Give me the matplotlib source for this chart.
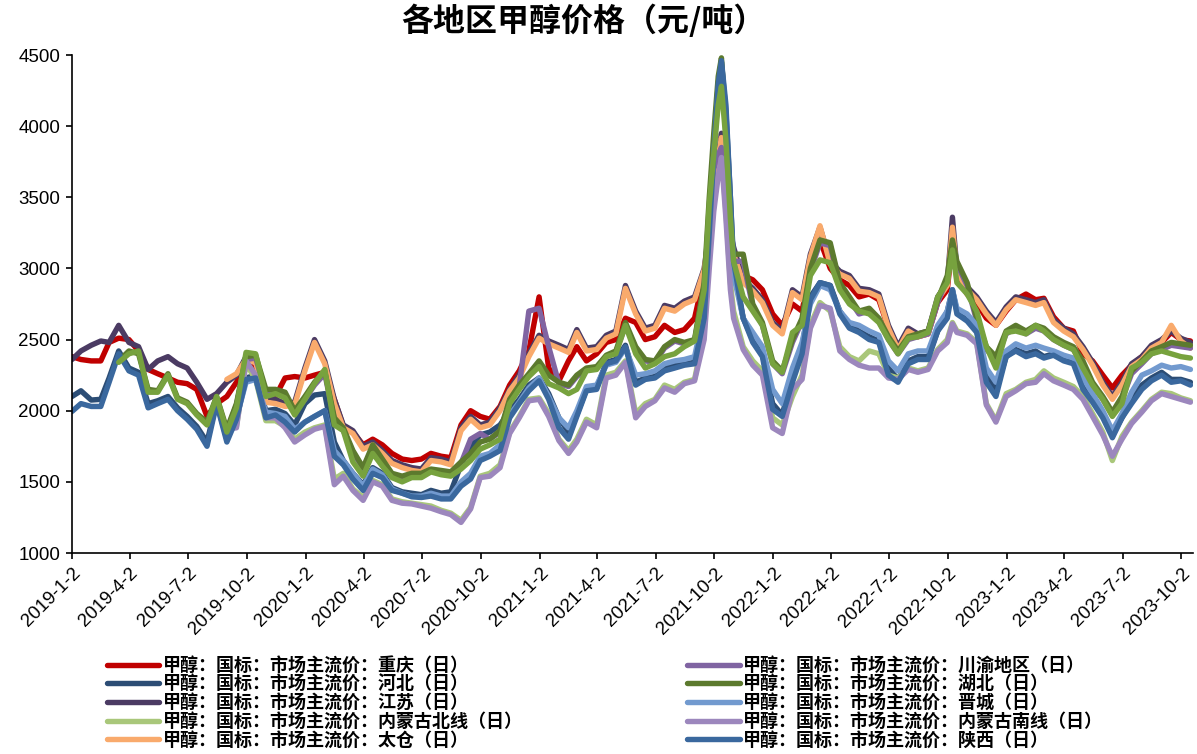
import numpy as np
import pandas as pd
import matplotlib
matplotlib.use('Agg')
import matplotlib.pyplot as plt

CJK = ['Noto Sans CJK SC', 'DejaVu Sans']
LAT = ['Liberation Sans', 'DejaVu Sans']

# 日期（半月采样，十月高点附近加密）
dates = [
    '2019-01-02', '2019-01-16', '2019-02-01', '2019-02-16', '2019-03-01', '2019-03-16', '2019-04-01', '2019-04-16', '2019-05-01', '2019-05-16',
    '2019-06-01', '2019-06-16', '2019-07-01', '2019-07-16', '2019-08-01', '2019-08-16', '2019-09-01', '2019-09-16', '2019-10-01', '2019-10-16',
    '2019-11-01', '2019-11-16', '2019-12-01', '2019-12-16', '2020-01-01', '2020-01-16', '2020-02-01', '2020-02-16', '2020-03-01', '2020-03-16',
    '2020-04-01', '2020-04-16', '2020-05-01', '2020-05-16', '2020-06-01', '2020-06-16', '2020-07-01', '2020-07-16', '2020-08-01', '2020-08-16',
    '2020-09-01', '2020-09-16', '2020-10-01', '2020-10-16', '2020-11-01', '2020-11-16', '2020-12-01', '2020-12-16', '2021-01-01', '2021-01-16',
    '2021-02-01', '2021-02-16', '2021-03-01', '2021-03-16', '2021-04-01', '2021-04-16', '2021-05-01', '2021-05-16', '2021-06-01', '2021-06-16',
    '2021-07-01', '2021-07-16', '2021-08-01', '2021-08-16', '2021-09-01', '2021-09-16', '2021-09-24', '2021-10-01', '2021-10-08', '2021-10-13',
    '2021-10-20', '2021-10-27', '2021-11-01', '2021-11-16', '2021-12-01', '2021-12-16', '2022-01-01', '2022-01-16', '2022-02-01', '2022-02-16',
    '2022-03-01', '2022-03-16', '2022-04-01', '2022-04-16', '2022-05-01', '2022-05-16', '2022-06-01', '2022-06-16', '2022-07-01', '2022-07-16',
    '2022-08-01', '2022-08-16', '2022-09-01', '2022-09-16', '2022-10-01', '2022-10-09', '2022-10-16', '2022-11-01', '2022-11-16', '2022-12-01',
    '2022-12-16', '2023-01-01', '2023-01-16', '2023-02-01', '2023-02-16', '2023-03-01', '2023-03-16', '2023-04-01', '2023-04-16', '2023-05-01',
    '2023-05-16', '2023-06-01', '2023-06-16', '2023-07-01', '2023-07-16', '2023-08-01', '2023-08-16', '2023-09-01', '2023-09-16', '2023-10-01',
    '2023-10-16',
]

N = None

chongqing = [
    2380, 2360, 2350, 2350, 2480, 2510, 2500, 2420, 2290, 2260,
    2230, 2200, 2190, 2150, 1960, 2050, 2100, 2200, 2320, 2300,
    2120, 2100, 2230, 2240, 2230, 2250, 2270, 2080, 1890, 1850,
    1760, 1800, 1760, 1700, 1660, 1650, 1660, 1700, 1680, 1670,
    1900, 2000, 1960, 1940, 2030, 2180, 2280, 2420, 2800, 2300,
    2210, 2350, 2450, 2350, 2400, 2480, 2500, 2650, 2620, 2500,
    2520, 2600, 2550, 2570, 2650, 2950, 3200, 3500, 3750, 3900,
    3500, 3200, 3050, 2950, 2920, 2850, 2680, 2600, 2750, 2700,
    3000, 3200, 3000, 2920, 2880, 2800, 2820, 2780, 2580, 2450,
    2560, 2520, 2540, 2760, 2850, 3200, 2950, 2820, 2760, 2650,
    2600, 2700, 2780, 2820, 2780, 2790, 2660, 2580, 2560, 2400,
    2350, 2250, 2160, 2250, 2320, 2380, 2450, 2480, 2550, 2500,
    2490,
]

hebei = [
    2100, 2140, 2075, 2080, 2230, 2420, 2300, 2270, 2050, 2070,
    2100, 2020, 1960, 1890, 1780, 2060, 1800, 1950, 2230, 2250,
    2000, 2010, 1980, 1900, 2050, 2110, 2120, 1780, 1650, 1560,
    1480, 1600, 1560, 1460, 1430, 1420, 1410, 1440, 1420, 1430,
    1620, 1750, 1830, 1850, 1900, 2000, 2080, 2180, 2230, 2120,
    1950, 1850, 1970, 2150, 2160, 2340, 2360, 2460, 2200, 2230,
    2240, 2300, 2320, 2330, 2340, 2700, 3300, 3850, 4300, 4450,
    4100, 3500, 3000, 2650, 2500, 2400, 2050, 1970, 2250, 2450,
    2800, 2900, 2880, 2700, 2600, 2560, 2520, 2490, 2300, 2220,
    2350, 2380, 2380, 2560, 2700, 2850, 2700, 2650, 2560, 2250,
    2150, 2380, 2430, 2400, 2420, 2380, 2400, 2370, 2340, 2200,
    2100, 1980, 1830, 1950, 2080, 2180, 2230, 2270, 2220, 2220,
    2200,
]

jiangsu = [
    2360, 2420, 2460, 2490, 2480, 2600, 2480, 2450, 2290, 2350,
    2380, 2330, 2300, 2200, 2080, 2120, 2200, 2250, 2380, 2360,
    2100, 2080, 2050, 2060, 2300, 2500, 2350, 2080, 1900, 1860,
    1750, 1780, 1720, 1650, 1620, 1600, 1590, 1670, 1660, 1640,
    1880, 1960, 1900, 1920, 2020, 2150, 2250, 2400, 2530, 2490,
    2460, 2430, 2570, 2440, 2450, 2530, 2560, 2880, 2700, 2580,
    2600, 2740, 2720, 2770, 2800, 3000, 3250, 3550, 3800, 3950,
    3600, 3250, 3150, 2920, 2860, 2780, 2620, 2560, 2850, 2800,
    3100, 3290, 3050, 2980, 2950, 2860, 2850, 2820, 2600, 2450,
    2580, 2540, 2560, 2800, 2900, 3360, 3000, 2870, 2800, 2700,
    2620, 2730, 2800, 2780, 2760, 2780, 2640, 2580, 2540, 2450,
    2340, 2200, 2100, 2200, 2330, 2380, 2460, 2500, 2560, 2510,
    2480,
]

neimeng_bei = [
    N, N, N, N, N, N, N, N, N, N,
    N, N, N, N, N, N, 1880, 1890, 2330, 2220,
    1930, 1930, 1890, 1800, 1850, 1880, 1900, 1520, 1560, 1450,
    1390, 1510, 1480, 1380, 1360, 1350, 1340, 1330, 1300, 1280,
    1230, 1320, 1540, 1560, 1620, 1850, 1960, 2080, 2090, 1980,
    1800, 1720, 1800, 1940, 1900, 2250, 2270, 2350, 1980, 2050,
    2080, 2180, 2150, 2200, 2220, 2550, 3100, 3450, 3700, 3820,
    3400, 2900, 2700, 2450, 2350, 2280, 1950, 1900, 2100, 2250,
    2600, 2760, 2700, 2450, 2380, 2350, 2420, 2400, 2250, 2230,
    2300, 2280, 2300, 2430, 2500, 2620, 2560, 2540, 2480, 2050,
    1930, 2120, 2150, 2200, 2220, 2280, 2230, 2200, 2170, 2100,
    1980, 1850, 1650, 1820, 1920, 2000, 2080, 2130, 2120, 2090,
    2070,
]

taicang = [
    N, N, N, N, N, N, N, N, N, N,
    N, N, N, N, N, N, 2220, 2260, 2360, 2340,
    2060, 2050, 2030, 2040, 2280, 2480, 2330, 2050, 1880, 1840,
    1730, 1760, 1700, 1630, 1600, 1580, 1570, 1650, 1640, 1620,
    1860, 1940, 1880, 1900, 2000, 2140, 2230, 2380, 2510, 2470,
    2440, 2410, 2550, 2420, 2430, 2510, 2540, 2860, 2680, 2560,
    2580, 2720, 2700, 2750, 2780, 2990, 3230, 3520, 3780, 3920,
    3580, 3230, 3100, 2900, 2840, 2760, 2600, 2540, 2830, 2780,
    3080, 3300, 3030, 2960, 2930, 2840, 2830, 2800, 2580, 2430,
    2560, 2520, 2540, 2780, 2880, 3290, 2980, 2850, 2780, 2680,
    2600, 2710, 2780, 2760, 2740, 2760, 2620, 2560, 2520, 2430,
    2320, 2180, 2080, 2180, 2310, 2360, 2440, 2480, 2600, 2490,
    2440,
]

chuanyu = [
    N, N, N, N, N, N, N, N, N, N,
    N, N, N, N, N, N, 1860, 2040, 2360, 2370,
    2130, 2130, 2110, 1990, 2080, 2180, 2260, 1940, 1860, 1710,
    1590, 1740, 1650, 1550, 1530, 1550, 1550, 1580, 1570, 1560,
    1630, 1800, 1840, 1800, 1850, 2070, 2170, 2700, 2720, 2450,
    2190, 2170, 2240, 2290, 2300, 2380, 2410, 2600, 2440, 2350,
    2340, 2440, 2490, 2470, 2490, 2880, 3400, 3700, 3800, 3850,
    3500, 3200, 3050, 3050, 2730, 2600, 2330, 2260, 2480, 2630,
    2980, 3180, 3160, 2880, 2780, 2680, 2700, 2630, 2500, 2400,
    2500, 2520, 2540, 2760, 2930, 3150, 3030, 2880, 2630, 2430,
    2360, 2540, 2580, 2540, 2580, 2560, 2500, 2460, 2430, 2330,
    2180, 2080, 1970, 2080, 2260, 2330, 2400, 2430, 2460, 2450,
    2440,
]

hubei = [
    N, N, N, N, N, 2350, 2420, 2400, 2150, 2140,
    2260, 2090, 2060, 1980, 1920, 2100, 1870, 2050, 2380, 2390,
    2150, 2150, 2130, 2000, 2100, 2200, 2280, 1950, 1880, 1720,
    1600, 1760, 1660, 1560, 1540, 1560, 1560, 1590, 1580, 1570,
    1640, 1700, 1780, 1800, 1860, 2080, 2180, 2260, 2350, 2250,
    2200, 2180, 2250, 2300, 2310, 2390, 2420, 2620, 2450, 2360,
    2350, 2450, 2500, 2480, 2500, 2900, 3500, 3950, 4350, 4480,
    4000, 3250, 3100, 3100, 2750, 2620, 2350, 2280, 2500, 2650,
    3000, 3200, 3180, 2900, 2800, 2700, 2720, 2650, 2520, 2420,
    2520, 2540, 2560, 2780, 2950, 3200, 3050, 2900, 2650, 2450,
    2380, 2560, 2600, 2560, 2600, 2580, 2520, 2480, 2450, 2350,
    2200, 2100, 1990, 2100, 2280, 2350, 2420, 2450, 2480, 2470,
    2460,
]

jincheng = [
    N, N, N, N, N, N, N, N, N, N,
    N, N, N, N, N, N, 1850, 1950, 2200, 2220,
    1990, 1980, 1960, 1870, 1920, 1960, 2000, 1720, 1650, 1560,
    1470, 1590, 1550, 1450, 1420, 1400, 1400, 1420, 1400, 1400,
    1500, 1560, 1680, 1700, 1760, 1970, 2060, 2160, 2230, 2100,
    1950, 1880, 2000, 2170, 2180, 2320, 2340, 2440, 2250, 2260,
    2280, 2330, 2350, 2360, 2380, 2700, 3300, 3800, 4250, 4370,
    3950, 3300, 2950, 2650, 2550, 2450, 2150, 2050, 2300, 2480,
    2750, 2880, 2850, 2700, 2620, 2600, 2560, 2530, 2350, 2280,
    2400, 2420, 2420, 2600, 2700, 2850, 2720, 2680, 2600, 2300,
    2200, 2420, 2470, 2440, 2460, 2440, 2420, 2390, 2370, 2230,
    2120, 2000, 1860, 1980, 2130, 2250, 2280, 2320, 2300, 2310,
    2290,
]

neimeng_nan = [
    N, N, N, N, N, N, N, N, N, N,
    N, N, N, N, N, N, 1870, 1880, 2350, 2250,
    1950, 1950, 1880, 1780, 1830, 1870, 1890, 1480, 1540, 1440,
    1370, 1500, 1470, 1370, 1350, 1345, 1330, 1315, 1290, 1270,
    1215, 1310, 1530, 1540, 1600, 1840, 1950, 2070, 2080, 1960,
    1790, 1700, 1780, 1920, 1880, 2230, 2250, 2340, 1950, 2030,
    2070, 2160, 2130, 2190, 2210, 2500, 3000, 3400, 3650, 3780,
    3350, 2850, 2650, 2430, 2320, 2250, 1880, 1840, 2150, 2220,
    2580, 2740, 2720, 2420, 2360, 2320, 2300, 2300, 2230, 2220,
    2290, 2270, 2290, 2420, 2480, 2610, 2550, 2530, 2470, 2040,
    1920, 2100, 2140, 2190, 2200, 2260, 2210, 2180, 2150, 2080,
    1960, 1830, 1680, 1800, 1910, 1990, 2070, 2120, 2100, 2080,
    2060,
]

shaanxi = [
    1995, 2050, 2030, 2030, 2200, 2400, 2280, 2250, 2020, 2050,
    2080, 2000, 1940, 1870, 1750, 2050, 1780, 1940, 2220, 2230,
    1950, 1970, 1920, 1850, 1920, 1960, 2000, 1680, 1620, 1520,
    1440, 1560, 1530, 1440, 1420, 1395, 1390, 1400, 1380, 1380,
    1470, 1520, 1650, 1680, 1720, 1950, 2050, 2140, 2210, 2080,
    1880, 1800, 1960, 2140, 2150, 2330, 2350, 2450, 2180, 2220,
    2230, 2280, 2300, 2320, 2330, 2650, 3250, 3800, 4300, 4460,
    4150, 3500, 3050, 2650, 2480, 2380, 2010, 1960, 2200, 2400,
    2780, 2900, 2880, 2680, 2580, 2550, 2500, 2480, 2250, 2200,
    2330, 2360, 2360, 2560, 2650, 2850, 2680, 2630, 2550, 2200,
    2100, 2380, 2420, 2380, 2400, 2370, 2390, 2350, 2330, 2150,
    2060, 1950, 1810, 1950, 2050, 2150, 2210, 2250, 2200, 2210,
    2180,
]

# 图中另有一条未进图例的亮绿色线
extra_green = [
    N, N, N, N, N, 2340, 2400, 2420, 2130, 2130,
    2250, 2080, 2050, 1970, 1900, 2100, 1850, 2020, 2410, 2400,
    2100, 2120, 2090, 1970, 2080, 2190, 2290, 1900, 1860, 1640,
    1540, 1700, 1610, 1530, 1500, 1530, 1530, 1570, 1550, 1540,
    1590, 1650, 1730, 1760, 1800, 2050, 2150, 2240, 2310, 2190,
    2160, 2120, 2150, 2280, 2290, 2380, 2400, 2600, 2400, 2300,
    2330, 2380, 2400, 2450, 2490, 2850, 3450, 3800, 4150, 4280,
    3900, 3350, 3050, 2800, 2700, 2600, 2330, 2270, 2550, 2600,
    2950, 3060, 3040, 2850, 2750, 2700, 2680, 2620, 2500, 2400,
    2510, 2520, 2550, 2800, 2900, 3130, 2900, 2820, 2700, 2450,
    2300, 2550, 2560, 2540, 2600, 2560, 2500, 2460, 2430, 2300,
    2180, 2080, 1960, 2050, 2300, 2340, 2400, 2420, 2400, 2380,
    2370,
]

regions = ['重庆', '河北', '江苏', '内蒙古北线', '太仓', '川渝地区', '湖北', '晋城', '内蒙古南线', '陕西']
series = [chongqing, hebei, jiangsu, neimeng_bei, taicang, chuanyu, hubei, jincheng, neimeng_nan, shaanxi]
colors = ['#C00000', '#2C4D75', '#4B3B63', '#A9C77A', '#F9AA6C',
          '#8064A2', '#5C7A2E', '#729ACF', '#9C87BD', '#3A689E']

xtick_labels = ['2019-1-2', '2019-4-2', '2019-7-2', '2019-10-2', '2020-1-2', '2020-4-2',
                '2020-7-2', '2020-10-2', '2021-1-2', '2021-4-2', '2021-7-2', '2021-10-2',
                '2022-1-2', '2022-4-2', '2022-7-2', '2022-10-2', '2023-1-2', '2023-4-2',
                '2023-7-2', '2023-10-2']

x = pd.to_datetime(dates)

fig = plt.figure(figsize=(11.97, 7.54), dpi=100)
ax = fig.add_axes([72 / 1197, 201 / 754, 1121 / 1197, 498 / 754])

handles = []
for name, vals, c in zip(regions, series, colors):
    y = np.array(vals, dtype=float)
    ln, = ax.plot(x, y, color=c, lw=3.9, solid_joinstyle='round', solid_capstyle='round',
                  label=f'甲醇：国标：市场主流价：{name}（日）')
    handles.append(ln)
ax.plot(x, np.array(extra_green, dtype=float), color='#77A23E', lw=3.9,
        solid_joinstyle='round', solid_capstyle='round')

ax.set_ylim(1000, 4500)
ax.set_yticks(np.arange(1000, 4501, 500))
ax.set_xlim(pd.Timestamp('2019-01-02'), pd.Timestamp('2023-10-20'))
ax.set_xticks(pd.to_datetime(xtick_labels))
ax.set_xticklabels(xtick_labels, rotation=45, ha='right', rotation_mode='anchor')

for s in ['top', 'right']:
    ax.spines[s].set_visible(False)
for s in ['left', 'bottom']:
    ax.spines[s].set_linewidth(1.2)
ax.tick_params(axis='both', direction='out', length=4.5, width=1.2, labelsize=13.5, pad=4)
for lab in ax.get_xticklabels() + ax.get_yticklabels():
    lab.set_family(LAT)

fig.text(583 / 1197, 1 - 21 / 754, '各地区甲醇价格（元/吨）', ha='center', va='center',
         fontsize=23, fontweight='bold', family=CJK)

fig.legend(handles=handles, ncol=2, loc='upper left', bbox_to_anchor=(107 / 1197, 1 - 656 / 754),
           frameon=False, prop={'family': CJK, 'size': 13, 'weight': 'bold'},
           handlelength=2.9, handletextpad=0.2, columnspacing=9.1, labelspacing=-0.02,
           borderpad=0, borderaxespad=0)

fig.savefig('out.png', dpi=100, facecolor='white')
